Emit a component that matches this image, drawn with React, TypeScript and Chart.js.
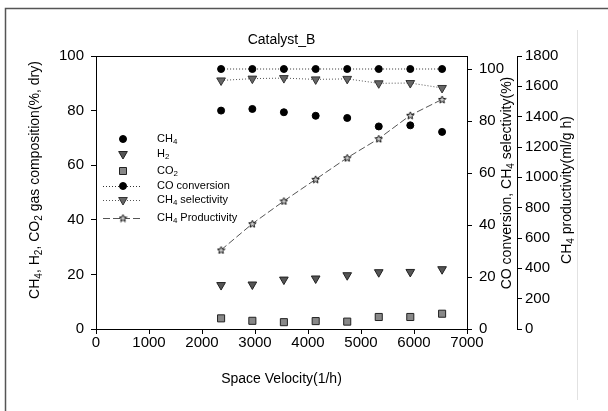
import React, { useEffect, useRef } from "react";
import { Chart, registerables } from "chart.js";

Chart.register(...registerables);

const FAMILY = "'Liberation Sans', Arial, sans-serif";

const spaceVelocity = [2360, 2950, 3545, 4145, 4740, 5335, 5930, 6530];
const ch4Comp = [80.0, 80.6, 79.4, 78.1, 77.3, 74.2, 74.6, 72.2];
const h2Comp = [16.1, 16.3, 18.1, 18.5, 19.7, 20.8, 20.9, 21.9];
const co2Comp = [3.9, 3.0, 2.5, 2.9, 2.7, 4.4, 4.4, 5.6];
const coConversion = [100, 100, 100, 100, 100, 100, 100, 100];
const ch4Selectivity = [95.6, 96.3, 96.5, 96.0, 96.2, 94.5, 94.6, 92.7];
const ch4Productivity = [521, 694, 844, 987, 1129, 1255, 1409, 1514];

const xTickStep = 1000;
const leftTickStep = 20;
const rightTickStep = 20;
const prodTickStep = 200;

type Part = [string, boolean];
const chartTitle = "Catalyst_B";
const xTitle: Part[] = [["Space Velocity(1/h)", false]];
const leftTitle: Part[] = [
  ["CH", false], ["4", true], [", H", false], ["2", true], [", CO", false], ["2", true],
  [" gas composition(%, dry)", false],
];
const rightTitle: Part[] = [["CO conversion, CH", false], ["4", true], [" selectivity(%)", false]];
const prodTitle: Part[] = [["CH", false], ["4", true], [" productivity(ml/g h)", false]];
const legendLabels: Part[][] = [
  [["CH", false], ["4", true]],
  [["H", false], ["2", true]],
  [["CO", false], ["2", true]],
  [["CO conversion", false]],
  [["CH", false], ["4", true], [" selectivity", false]],
  [["CH", false], ["4", true], [" Productivity", false]],
];

function pts(ys: number[]) {
  return spaceVelocity.map((x, i) => ({ x, y: ys[i] }));
}

function makeStar(size: number) {
  const c = document.createElement("canvas");
  c.width = size;
  c.height = size;
  const ctx = c.getContext("2d")!;
  const cx = size / 2, cy = size / 2 + 0.4;
  const ro = size / 2 - 0.6, ri = ro * 0.45;
  ctx.beginPath();
  for (let i = 0; i < 10; i++) {
    const r = i % 2 === 0 ? ro : ri;
    const a = -Math.PI / 2 + (i * Math.PI) / 5;
    const px = cx + r * Math.cos(a), py = cy + r * Math.sin(a);
    if (i === 0) ctx.moveTo(px, py);
    else ctx.lineTo(px, py);
  }
  ctx.closePath();
  ctx.fillStyle = "#ccc";
  ctx.fill();
  ctx.strokeStyle = "#111";
  ctx.lineWidth = 1;
  ctx.stroke();
  return c;
}

function drawRich(
  ctx: CanvasRenderingContext2D, parts: Part[], x: number, y: number,
  size: number, rotate: boolean, align: "center" | "left"
) {
  ctx.save();
  ctx.translate(x, y);
  if (rotate) ctx.rotate(-Math.PI / 2);
  const widths: number[] = [];
  let total = 0;
  for (const [t, sub] of parts) {
    ctx.font = `${sub ? size * 0.72 : size}px ${FAMILY}`;
    const w = ctx.measureText(t).width;
    widths.push(w);
    total += w;
  }
  let cx = align === "center" ? -total / 2 : 0;
  ctx.textBaseline = "middle";
  ctx.textAlign = "left";
  ctx.fillStyle = "#000";
  parts.forEach(([t, sub], i) => {
    ctx.font = `${sub ? size * 0.72 : size}px ${FAMILY}`;
    ctx.fillText(t, cx, sub ? size * 0.3 : 0);
    cx += widths[i];
  });
  ctx.restore();
}

function drawMarker(ctx: CanvasRenderingContext2D, kind: string, x: number, y: number, fill: string, stroke: string, star?: HTMLCanvasElement) {
  ctx.save();
  ctx.fillStyle = fill;
  ctx.strokeStyle = stroke;
  ctx.lineWidth = 1;
  ctx.beginPath();
  if (kind === "circle") {
    ctx.arc(x, y, 3.5, 0, Math.PI * 2);
    ctx.fill();
    ctx.stroke();
  } else if (kind === "tri") {
    const r = 5;
    for (let i = 0; i < 3; i++) {
      const a = Math.PI / 2 + (i * 2 * Math.PI) / 3;
      const px = x + r * Math.cos(a), py = y + r * Math.sin(a);
      if (i === 0) ctx.moveTo(px, py);
      else ctx.lineTo(px, py);
    }
    ctx.closePath();
    ctx.fill();
    ctx.stroke();
  } else if (kind === "rect") {
    ctx.rect(x - 3.5, y - 3.5, 7, 7);
    ctx.fill();
    ctx.stroke();
  } else if (kind === "star" && star) {
    ctx.drawImage(star, x - star.width / 2, y - star.height / 2);
  }
  ctx.restore();
}

export default function App() {
  const ref = useRef<HTMLCanvasElement | null>(null);

  useEffect(() => {
    if (!ref.current) return;
    const star = makeStar(9);

    const legendRows = [
      { y: 139, kind: "circle", fill: "#000", stroke: "#000", dash: null as number[] | null, lc: "" },
      { y: 154, kind: "tri", fill: "#555", stroke: "#222", dash: null, lc: "" },
      { y: 171, kind: "rect", fill: "#888", stroke: "#222", dash: null, lc: "" },
      { y: 186, kind: "circle", fill: "#000", stroke: "#000", dash: [1, 2], lc: "#333" },
      { y: 200, kind: "tri", fill: "#666", stroke: "#333", dash: [1, 2], lc: "#555" },
      { y: 218, kind: "star", fill: "", stroke: "", dash: [7, 3], lc: "#555" },
    ];

    const decor = {
      id: "decor",
      beforeDraw(chart: any) {
        const ctx = chart.ctx as CanvasRenderingContext2D;
        ctx.save();
        ctx.fillStyle = "#fff";
        ctx.fillRect(0, 0, chart.width, chart.height);
        ctx.strokeStyle = "#555";
        ctx.lineWidth = 1.5;
        ctx.beginPath();
        ctx.moveTo(5.5, 411);
        ctx.lineTo(5.5, 8.5);
        ctx.lineTo(608, 8.5);
        ctx.stroke();
        ctx.strokeStyle = "#e2e2e2";
        ctx.lineWidth = 1;
        ctx.beginPath();
        ctx.moveTo(577.5, 30);
        ctx.lineTo(577.5, 400);
        ctx.stroke();
        ctx.restore();
      },
      afterDraw(chart: any) {
        const ctx = chart.ctx as CanvasRenderingContext2D;
        const a = chart.chartArea;
        ctx.save();
        ctx.strokeStyle = "#000";
        ctx.lineWidth = 1;
        ctx.beginPath();
        ctx.moveTo(a.left, Math.round(a.top) + 0.5);
        ctx.lineTo(a.right + 0.5, Math.round(a.top) + 0.5);
        ctx.stroke();
        ctx.restore();

        drawRich(ctx, [[chartTitle, false]], (a.left + a.right) / 2, 40, 14, false, "center");
        drawRich(ctx, xTitle, (a.left + a.right) / 2, 379, 14, false, "center");
        drawRich(ctx, leftTitle, 35, 180, 14, true, "center");
        drawRich(ctx, rightTitle, 507, 183, 14, true, "center");
        drawRich(ctx, prodTitle, 567, 190, 14, true, "center");

        for (let i = 0; i < legendRows.length; i++) {
          const r = legendRows[i];
          if (r.dash) {
            ctx.save();
            ctx.strokeStyle = r.lc;
            ctx.lineWidth = 1;
            ctx.setLineDash(r.dash);
            ctx.beginPath();
            ctx.moveTo(103, r.y + 0.5);
            ctx.lineTo(141, r.y + 0.5);
            ctx.stroke();
            ctx.restore();
          }
          drawMarker(ctx, r.kind, 123, r.y, r.fill, r.stroke, star);
          drawRich(ctx, legendLabels[i], 157, r.y, 11, false, "left");
        }
      },
    };

    const tickFont = { size: 15, family: FAMILY };
    const fmt = (v: any) => String(v);
    const grid = { drawOnChartArea: false, drawTicks: true, tickLength: 5, color: "#000", lineWidth: 1 };
    const border = { display: true, color: "#000", width: 1 };

    const chart = new Chart(ref.current, {
      type: "line",
      data: {
        datasets: [
          {
            label: "CH4", data: pts(ch4Comp), yAxisID: "y", showLine: false,
            pointStyle: "circle", pointRadius: 3.5, pointBackgroundColor: "#000", pointBorderColor: "#000",
          },
          {
            label: "H2", data: pts(h2Comp), yAxisID: "y", showLine: false,
            pointStyle: "triangle", pointRotation: 180, pointRadius: 5,
            pointBackgroundColor: "#555", pointBorderColor: "#222",
          },
          {
            label: "CO2", data: pts(co2Comp), yAxisID: "y", showLine: false,
            pointStyle: "rect", pointRadius: 5, pointBackgroundColor: "#888", pointBorderColor: "#222",
          },
          {
            label: "CO conversion", data: pts(coConversion), yAxisID: "y1", showLine: true,
            borderColor: "#333", borderWidth: 1, borderDash: [1, 2],
            pointStyle: "circle", pointRadius: 3.5, pointBackgroundColor: "#000", pointBorderColor: "#000",
          },
          {
            label: "CH4 selectivity", data: pts(ch4Selectivity), yAxisID: "y1", showLine: true,
            borderColor: "#555", borderWidth: 1, borderDash: [1, 2],
            pointStyle: "triangle", pointRotation: 180, pointRadius: 5,
            pointBackgroundColor: "#666", pointBorderColor: "#333",
          },
          {
            label: "CH4 Productivity", data: pts(ch4Productivity), yAxisID: "y2", showLine: true,
            borderColor: "#555", borderWidth: 1, borderDash: [7, 3],
            pointStyle: star as any, pointRadius: 5,
          },
        ],
      } as any,
      options: {
        animation: false,
        responsive: false,
        devicePixelRatio: 1,
        layout: { padding: { top: 56, left: 0, right: 0, bottom: 0 } },
        plugins: { legend: { display: false }, tooltip: { enabled: false }, title: { display: false } },
        scales: {
          x: {
            type: "linear", min: 0, max: 7000,
            ticks: { stepSize: xTickStep, color: "#000", font: tickFont, padding: 0, maxRotation: 0, includeBounds: false, callback: fmt },
            grid, border,
            afterFit: (s: any) => { s.height = 82; },
          },
          y: {
            type: "linear", position: "left", min: 0, max: 100,
            ticks: { stepSize: leftTickStep, color: "#000", font: tickFont, padding: 7, includeBounds: false, callback: fmt },
            grid, border,
            afterFit: (s: any) => { s.width = 96; },
          },
          y1: {
            type: "linear", position: "right", min: 0, max: 105,
            ticks: { stepSize: rightTickStep, color: "#000", font: tickFont, padding: 7, includeBounds: false, callback: fmt },
            grid, border,
            afterFit: (s: any) => { s.width = 50; },
          },
          y2: {
            type: "linear", position: "right", min: 0, max: 1800,
            ticks: { stepSize: prodTickStep, color: "#000", font: tickFont, padding: 3, includeBounds: false, callback: fmt },
            grid, border,
            afterFit: (s: any) => { s.width = 91; },
          },
        },
      } as any,
      plugins: [decor],
    });
    return () => chart.destroy();
  }, []);

  return (
    <div style={{ position: "fixed", left: 0, top: 0, width: 608, height: 411, background: "#fff" }}>
      <canvas ref={ref} width={608} height={411} style={{ width: 608, height: 411, display: "block" }} />
    </div>
  );
}
